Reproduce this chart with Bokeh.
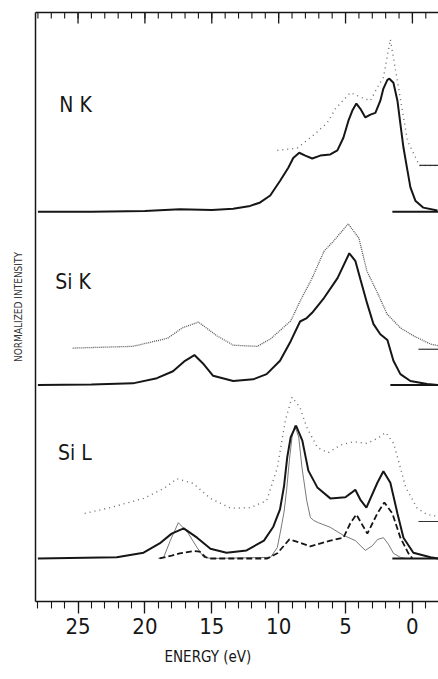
from bokeh.plotting import figure
from bokeh.models import Range1d, LinearAxis, FixedTicker, Label, Title
from bokeh.embed import file_html
from bokeh.resources import INLINE

# ---------------- data (energy in eV, intensity in arbitrary units above each baseline) ----------
panels = ["N K", "Si K", "Si L"]
offsets = [6.0, 3.0, 0.0]

nk_solid_e = [28.0, 24.0, 20.0, 17.4, 15.0, 13.4, 12.13, 11.38, 10.63, 9.88, 9.28, 8.91, 8.46, 8.01,
              7.49, 6.89, 6.14, 5.61, 5.16, 4.79, 4.49, 4.19, 3.89, 3.52, 3.14, 2.77, 2.40, 2.17,
              1.87, 1.72, 1.42, 1.12, 0.90, 0.67, 0.37, 0.15, -0.22, -0.82, -1.87]
nk_solid_i = [0.00, 0.00, 0.01, 0.04, 0.03, 0.05, 0.10, 0.16, 0.28, 0.54, 0.76, 0.93, 1.02, 0.97,
              0.92, 0.97, 0.99, 1.06, 1.28, 1.57, 1.75, 1.87, 1.78, 1.63, 1.68, 1.71, 1.92, 2.13,
              2.28, 2.30, 2.23, 1.92, 1.52, 1.11, 0.71, 0.42, 0.19, 0.07, 0.02]

nk_dot_e = [10.1, 8.61, 7.26, 6.36, 5.76, 4.64, 3.74, 3.14, 2.62, 2.17, 1.65, 0.37, -0.52, -1.9]
nk_dot_i = [1.06, 1.10, 1.35, 1.54, 1.78, 2.06, 1.97, 1.92, 2.15, 2.32, 2.98, 1.23, 0.80, 0.80]

sik_solid_e = [28.0, 24.0, 20.9, 19.1, 17.9, 17.0, 16.3, 15.6, 14.9, 13.4, 11.9, 10.9, 9.9, 9.1,
               8.4, 7.9, 7.5, 6.6, 5.6, 4.72, 4.27, 3.89, 3.37, 2.92, 2.40, 1.87, 1.42, 0.90,
               0.15, -1.1, -1.9]
sik_solid_i = [0.00, 0.01, 0.03, 0.12, 0.24, 0.42, 0.52, 0.36, 0.16, 0.07, 0.10, 0.19, 0.42, 0.76,
               1.10, 1.16, 1.25, 1.51, 1.85, 2.28, 2.15, 1.83, 1.40, 1.06, 0.88, 0.78, 0.42, 0.19,
               0.07, 0.02, 0.00]

sik_dot_e = [25.4, 20.9, 18.3, 17.2, 16.0, 14.6, 13.4, 11.6, 10.6, 9.1, 8.4, 7.5, 6.6, 5.9, 4.8,
             4.0, 3.4, 2.6, 1.9, 0.9, -0.1, -1.35, -1.95]
sik_dot_i = [0.64, 0.67, 0.81, 0.99, 1.09, 0.85, 0.69, 0.67, 0.80, 1.11, 1.45, 1.85, 2.32, 2.49, 2.79,
             2.54, 1.97, 1.59, 1.23, 0.99, 0.85, 0.71, 0.68]

sil_solid_e = [28.0, 22.1, 20.1, 18.9, 18.0, 17.1, 16.1, 15.1, 13.9, 12.4, 11.1, 10.4, 9.9, 9.6,
               9.36, 9.1, 8.7, 8.23, 7.78, 7.11, 6.14, 5.01, 4.6, 4.27, 3.9, 3.44, 2.62, 2.17,
               1.65, 1.12, 0.67, -0.07, -1.35, -1.95]
sil_solid_i = [0.00, 0.02, 0.10, 0.26, 0.43, 0.52, 0.36, 0.17, 0.10, 0.14, 0.31, 0.55, 0.85, 1.25,
               1.75, 2.10, 2.30, 2.04, 1.52, 1.23, 1.04, 1.06, 1.13, 1.19, 1.02, 0.88, 1.31, 1.51,
               1.31, 0.78, 0.36, 0.10, 0.02, 0.00]

sil_thin_e = [19.0, 18.6, 18.1, 17.5, 16.8, 16.1, 15.6, 15.0, 10.6, 10.1, 9.88, 9.6, 9.4, 9.2, 9.0,
              8.8, 8.5, 8.26, 7.9, 7.63, 7.39, 7.04, 6.14, 5.16, 4.27, 3.52, 3.0, 2.6, 2.17, 1.8,
              1.42, 0.9, 0.5]
sil_thin_i = [0.00, 0.02, 0.31, 0.62, 0.45, 0.19, 0.02, 0.00, 0.02, 0.19, 0.45, 0.80, 1.20, 1.70, 2.10,
              2.30, 2.10, 1.58, 1.00, 0.71, 0.66, 0.62, 0.54, 0.40, 0.31, 0.14, 0.22, 0.33, 0.36, 0.25,
              0.09, 0.02, 0.00]

sil_dash_e = [18.9, 18.0, 17.4, 16.3, 15.9, 15.5, 15.2, 10.85, 10.1, 9.2, 8.5, 7.63, 6.14, 5.16,
              4.64, 4.19, 3.37, 2.62, 2.1, 1.5, 0.9, 0.3, 0.0]
sil_dash_i = [0.00, 0.05, 0.09, 0.13, 0.12, 0.03, 0.00, 0.00, 0.09, 0.33, 0.28, 0.21, 0.31, 0.36,
              0.61, 0.76, 0.43, 0.78, 0.97, 0.78, 0.36, 0.09, 0.00]

sil_dot_e = [24.5, 22.6, 20.1, 18.6, 17.6, 16.4, 15.1, 13.6, 12.1, 10.9, 10.1, 9.5, 9.0, 8.4, 7.9,
             7.1, 6.3, 5.4, 4.4, 3.4, 2.6, 2.0, 1.4, 0.9, 0.5, -0.35, -1.1, -1.9]
sil_dot_i = [0.78, 0.88, 1.04, 1.21, 1.38, 1.30, 1.04, 0.87, 0.88, 1.00, 1.57, 2.39, 2.79, 2.61, 2.27,
             1.92, 1.83, 1.96, 2.02, 1.99, 2.08, 2.18, 1.99, 1.57, 1.23, 0.87, 0.76, 0.73]

# zero-level markers at the right edge (start energy, level above baseline)
zero_solid_start = [1.5, 1.65, 1.5]
zero_dot_start = [-0.52, -0.45, -0.45]
zero_dot_level = [0.80, 0.62, 0.64]
marker_end = -1.95

major_ticks = [0, 5, 10, 15, 20, 25]
minor_ticks = list(range(-1, 29))

# ---------------- figure ----------------
FONT = "'DejaVu Sans Condensed', 'DejaVu Sans', sans-serif"
INK = "#161616"

X0, X1 = 28.18, -1.95
Y0, Y1 = -0.744, 9.446

p = figure(width=438, height=678, output_backend="svg", toolbar_location=None,
           x_range=Range1d(X0, X1), y_range=Range1d(Y0, Y1),
           min_border_left=35, min_border_right=0, min_border_top=12, min_border_bottom=77)
p.outline_line_color = None
p.grid.visible = False
p.background_fill_color = "white"
p.border_fill_color = "white"

# bottom axis
xa = p.xaxis[0]
xa.ticker = FixedTicker(ticks=major_ticks, minor_ticks=minor_ticks)
xa.major_tick_in = 0
xa.major_tick_out = 12
xa.minor_tick_in = 0
xa.minor_tick_out = 7
xa.axis_line_width = 1.5
xa.axis_line_color = INK
xa.major_tick_line_color = INK
xa.minor_tick_line_color = INK
xa.major_tick_line_width = 1.3
xa.minor_tick_line_width = 1.1
xa.major_label_text_font = FONT
xa.major_label_text_font_size = "22px"
xa.major_label_text_color = INK
xa.major_label_standoff = 4

# top axis: line only (ticks pointing inward drawn below)
ta = LinearAxis(ticker=FixedTicker(ticks=[]), major_tick_in=0, major_tick_out=0,
                minor_tick_in=0, minor_tick_out=0, axis_line_width=1.5, axis_line_color=INK)
p.add_layout(ta, "above")

# inward ticks on the top edge
px_per_unit = 57.8
top_major_len = 11 / px_per_unit
top_minor_len = 6 / px_per_unit
p.segment(x0=major_ticks, y0=[Y1] * len(major_ticks), x1=major_ticks,
          y1=[Y1 - top_major_len] * len(major_ticks), line_color=INK, line_width=1.3)
p.segment(x0=minor_ticks, y0=[Y1] * len(minor_ticks), x1=minor_ticks,
          y1=[Y1 - top_minor_len] * len(minor_ticks), line_color=INK, line_width=1.1)

# left axis: line + label only
ya = p.yaxis[0]
ya.ticker = FixedTicker(ticks=[])
ya.major_tick_in = 0
ya.major_tick_out = 0
ya.minor_tick_in = 0
ya.minor_tick_out = 0
ya.axis_line_width = 1.5
ya.axis_line_color = INK
ya.axis_label = "NORMALIZED INTENSITY"
ya.axis_label_text_font = FONT
ya.axis_label_text_font_size = "10px"
ya.axis_label_text_font_style = "normal"
ya.axis_label_text_color = "#333333"
ya.axis_label_standoff = 12

# curves
def shifted(vals, off):
    return [v + off for v in vals]

off_nk, off_sik, off_sil = offsets

p.line(nk_dot_e, shifted(nk_dot_i, off_nk), line_color="#6a6a6a", line_width=1.4, line_dash="1 4")
p.line(nk_solid_e, shifted(nk_solid_i, off_nk), line_color=INK, line_width=2.0)

p.line(sik_dot_e, shifted(sik_dot_i, off_sik), line_color="#555555", line_width=1.3, line_dash="1 1")
p.line(sik_solid_e, shifted(sik_solid_i, off_sik), line_color=INK, line_width=2.0)

p.line(sil_dot_e, shifted(sil_dot_i, off_sil), line_color="#6a6a6a", line_width=1.4, line_dash="1 4")
p.line(sil_thin_e, shifted(sil_thin_i, off_sil), line_color="#555555", line_width=0.8)
p.line(sil_dash_e, shifted(sil_dash_i, off_sil), line_color=INK, line_width=1.8, line_dash="6 3")
p.line(sil_solid_e, shifted(sil_solid_i, off_sil), line_color=INK, line_width=2.0)

# zero-level markers
p.segment(x0=zero_solid_start, y0=offsets, x1=[marker_end] * 3, y1=offsets,
          line_color=INK, line_width=2.0)
p.segment(x0=zero_dot_start, y0=[o + l for o, l in zip(offsets, zero_dot_level)],
          x1=[marker_end] * 3, y1=[o + l for o, l in zip(offsets, zero_dot_level)],
          line_color="#333333", line_width=1.2)

# panel labels
label_e = [26.4, 26.7, 26.5]
label_h = [1.84, 1.78, 1.82]
for name, e, off, h in zip(panels, label_e, offsets, label_h):
    p.add_layout(Label(x=e, y=off + h, text=name, text_font=FONT, text_font_size="21px",
                       text_color=INK, text_baseline="middle", text_align="left"))

# x axis title, placed below the axis (left-aligned with an offset, as in the original)
p.add_layout(Title(text="ENERGY (eV)", align="left", offset=129, standoff=18,
                   text_font=FONT, text_font_size="15px", text_font_style="normal",
                   text_color=INK), "below")

open("out.html", "w").write(file_html(p, INLINE))
